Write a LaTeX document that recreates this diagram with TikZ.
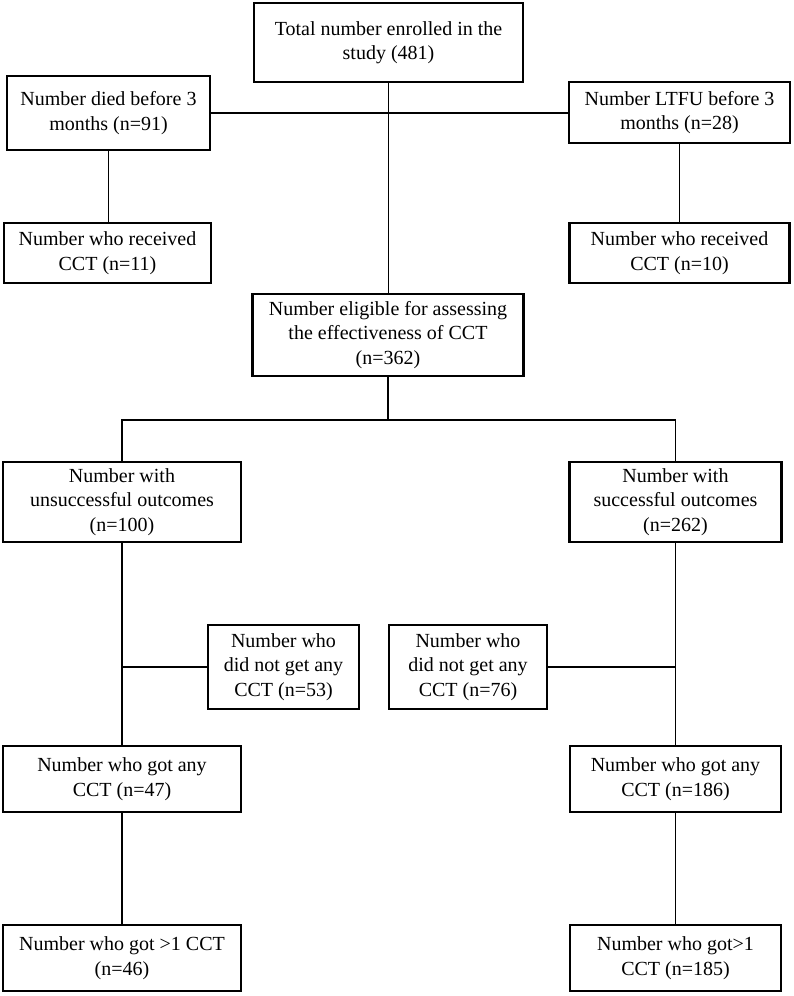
\documentclass[tikz,border=0pt]{standalone}
\usepackage{fontspec}
\setmainfont{Liberation Serif}
\begin{document}
\begin{tikzpicture}[x=1pt,y=-1pt,
  box/.style={draw,line width=2.4pt,rectangle,align=center,inner sep=0pt,
    font=\fontsize{20}{24.5}\selectfont},
  conn/.style={line width=1.5pt}]
\useasboundingbox (0,0) rectangle (793,996);
\node[box,minimum width=269pt,minimum height=79pt] (top) at (388.5,42.5) {Total number enrolled in the\\study (481)};
\node[box,minimum width=203pt,minimum height=74pt] (died) at (108.5,113) {Number died before 3\\months (n=91)};
\node[box,minimum width=221pt,minimum height=61pt] (ltfu) at (679.5,112.5) {Number LTFU before 3\\months (n=28)};
\node[box,minimum width=207pt,minimum height=60pt] (rec11) at (107.5,253) {Number who received\\CCT (n=11)};
\node[box,minimum width=220pt,minimum height=60pt] (rec10) at (679.5,253) {Number who received\\CCT (n=10)};
\node[box,minimum width=271pt,minimum height=82pt] (elig) at (388,335) {Number eligible for assessing\\the effectiveness of CCT\\(n=362)};
\node[box,minimum width=238pt,minimum height=80pt] (unsucc) at (122,502) {Number with\\unsuccessful outcomes\\(n=100)};
\node[box,minimum width=212pt,minimum height=80pt] (succ) at (675.5,502) {Number with\\successful outcomes\\(n=262)};
\node[box,minimum width=151pt,minimum height=84pt] (n53) at (283.5,667) {Number who\\did not get any\\CCT (n=53)};
\node[box,minimum width=158pt,minimum height=84pt] (n76) at (468,667) {Number who\\did not get any\\CCT (n=76)};
\node[box,minimum width=238pt,minimum height=66pt] (any47) at (122,779) {Number who got any\\CCT (n=47)};
\node[box,minimum width=211pt,minimum height=66pt] (any186) at (675.5,779) {Number who got any\\CCT (n=186)};
\node[box,minimum width=238pt,minimum height=66pt] (g46) at (122,958) {Number who got >1 CCT\\(n=46)};
\node[box,minimum width=211pt,minimum height=66pt] (g185) at (675.5,958) {Number who got>1\\CCT (n=185)};
\coordinate (split) at (388,420);
\draw[conn] (top.south) -- (top.south |- elig.north);
\draw[conn] (died.east) -- (died.east -| ltfu.west);
\draw[conn] (died.south) -- (died.south |- rec11.north);
\draw[conn] (ltfu.south) -- (rec10.north);
\draw[conn] (elig.south) -- (split);
\draw[conn] (unsucc.north) |- (split) -| (succ.north);
\draw[conn] (unsucc.south) -- (any47.north);
\draw[conn] (n53.west) -- (n53.west -| unsucc.south);
\draw[conn] (succ.south) -- (any186.north);
\draw[conn] (n76.east) -- (n76.east -| succ.south);
\draw[conn] (any47.south) -- (g46.north);
\draw[conn] (any186.south) -- (g185.north);
\end{tikzpicture}
\end{document}
